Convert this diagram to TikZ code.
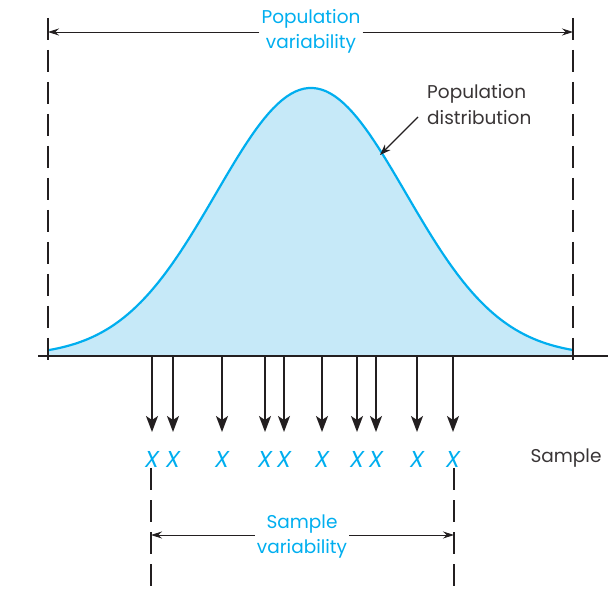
\documentclass[tikz,border=0pt]{standalone}
\usepackage{fontspec}
\setmainfont{Poppins}
\usetikzlibrary{arrows.meta}
\definecolor{cy}{HTML}{00AEEF}
\definecolor{lb}{HTML}{C6E9F8}
\definecolor{dk}{HTML}{231F20}
\begin{document}
\begin{tikzpicture}[x=1pt,y=-1pt,
  lab/.style={text=cy,font=\fontsize{18.5}{25}\selectfont,align=center,inner sep=2pt},
  blk/.style={text=dk!90,font=\fontsize{18.5}{26}\selectfont,align=left,inner sep=0pt},
  xm/.style={text=cy,font=\fontsize{23}{25}\selectfont\itshape,inner sep=0pt},
  dsh/.style={dk,line width=1.1pt,dash pattern=on 22pt off 10pt},
  dim/.style={dk,line width=0.9pt,-{Stealth[length=11pt,width=7pt]}},
  samp/.style={dk,line width=1.8pt,-{Stealth[length=16pt,width=12pt,inset=4pt]}}]
\useasboundingbox (0,0) rectangle (608,593);
% curve
\fill[lb] (48,356) -- plot[domain=48:573,samples=120] (\x,{356-268*exp(-0.5*((\x-311)/95)^2)}) -- (573,356) -- cycle;
\draw[cy,line width=2.2pt] plot[domain=48:573,samples=120] (\x,{356-268*exp(-0.5*((\x-311)/95)^2)});
% baseline
\coordinate (bl) at (38,356);
\coordinate (br) at (608,356);
\draw[dk,line width=1.6pt] (bl) -- (br);
% population dashed lines
\coordinate (pl0) at (48,18);
\coordinate (pl1) at (48,361);
\coordinate (pr0) at (573,18);
\coordinate (pr1) at (573,361);
\draw[dsh] (pl0) -- (pl1);
\draw[dsh] (pr0) -- (pr1);
\node[lab] (pv) at (311,31) {Population\\variability};
\coordinate (pva) at (48,32);
\coordinate (pvb) at (573,32);
\draw[dim] (pv.west |- pva) -- (pva);
\draw[dim] (pv.east |- pvb) -- (pvb);
% population distribution label
\node[blk,anchor=north west] (pd) at (427,84) {Population\\distribution};
\coordinate (pdt) at (418,117);
\coordinate (pdh) at (380,155);
\draw[dk,line width=1.1pt,-{Stealth[length=11pt,width=8pt]}] (pdt) -- (pdh);
% sample arrows and X
\foreach \i/\xx in {1/152,2/173,3/222,4/265,5/284,6/322,7/357,8/376,9/417,10/453}{
  \coordinate (a\i) at (\xx,357);
  \coordinate (b\i) at (\xx,432);
  \draw[samp] (a\i) -- (b\i);
  \node[xm] (x\i) at (\xx,459) {X};
}
\node[blk,anchor=center] (sm) at (566,458) {Sample};
% sample dashed lines
\coordinate (sl0) at (151,468);
\coordinate (sl1) at (151,593);
\coordinate (sr0) at (454,468);
\coordinate (sr1) at (454,593);
\draw[dsh] (sl0) -- (sl1);
\draw[dsh] (sr0) -- (sr1);
\node[lab] (sv) at (302,537) {Sample\\variability};
\coordinate (sva) at (151,535);
\coordinate (svb) at (454,535);
\draw[dim] (sv.west |- sva) -- (sva);
\draw[dim] (sv.east |- svb) -- (svb);
\end{tikzpicture}
\end{document}
